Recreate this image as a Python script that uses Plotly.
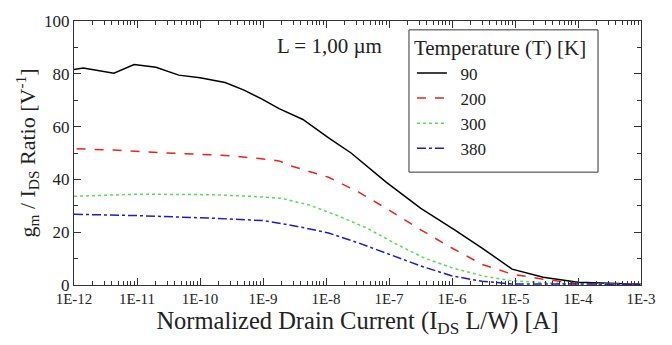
import plotly.graph_objects as go

# ---- data ----
x_90 = [1e-12, 1.4e-12, 4.3e-12, 9e-12, 2e-11, 4.6e-11, 1e-10, 2.5e-10, 5e-10, 9.5e-10,
        1.8e-9, 4.3e-9, 1.1e-8, 2.5e-8, 9e-8, 3.2e-7, 1.1e-6, 3e-6, 9e-6, 2.8e-5, 1e-4, 1e-3]
y_90 = [81.6, 82.2, 80.2, 83.5, 82.5, 79.5, 78.5, 76.7, 73.8, 70.5,
        66.8, 62.7, 55.7, 50.0, 39.0, 29.0, 20.9, 14.0, 6.0, 2.9, 1.0, 0.3]

x_200 = [1.1e-12, 4.3e-12, 2.5e-11, 2.5e-10, 8.7e-10, 1.8e-9, 2.7e-9, 1.1e-8, 3.3e-8, 1e-7,
         3.2e-7, 9.8e-7, 3e-6, 9e-6, 2.8e-5, 1e-4, 1e-3]
y_200 = [51.6, 51.1, 50.1, 49.1, 47.9, 47.0, 45.2, 40.8, 35.2, 28.4,
         20.9, 14.1, 7.8, 4.1, 2.2, 0.6, 0.2]

x_300 = [1e-12, 1e-11, 1.6e-10, 6.5e-10, 2e-9, 5.4e-9, 1.45e-8, 4.5e-8, 1.35e-7, 3.6e-7,
         9.8e-7, 3e-6, 9e-6, 5e-5, 1e-3]
y_300 = [33.6, 34.4, 34.2, 33.6, 32.8, 30.3, 26.5, 21.5, 15.3, 10.3,
         6.6, 3.5, 1.6, 0.6, 0.2]

x_380 = [1e-12, 1e-11, 1.6e-10, 1e-9, 3.5e-9, 1.1e-8, 3.3e-8, 1e-7, 3.2e-7, 9.8e-7,
         3e-6, 9e-6, 1e-3]
y_380 = [26.8, 26.3, 25.3, 24.4, 22.2, 19.7, 15.9, 11.6, 7.2, 3.5,
         1.4, 0.4, 0.3]

series_names = ["90", "200", "300", "380"]
x_tickvals = [1e-12, 1e-11, 1e-10, 1e-9, 1e-8, 1e-7, 1e-6, 1e-5, 1e-4, 1e-3]
x_ticktext = ["1E-12", "1E-11", "1E-10", "1E-9", "1E-8", "1E-7", "1E-6", "1E-5", "1E-4", "1E-3"]
y_tickvals = [0, 20, 40, 60, 80, 100]

FONT = "Liberation Serif"
TXT = "#222222"

fig = go.Figure()
styles = [
    ("#000000", "solid", 1.5),
    ("#e8231c", "dash", 1.5),
    ("#55dd55", "dot", 1.5),
    ("#1c1ccc", "dashdot", 1.5),
]
for (xs, ys, name, (c, d, w)) in zip([x_90, x_200, x_300, x_380],
                                     [y_90, y_200, y_300, y_380],
                                     series_names, styles):
    fig.add_trace(go.Scatter(x=xs, y=ys, name="\u2002" + name, mode="lines",
                             line=dict(color=c, dash=d, width=w)))

minor_x = []
for e in range(-12, -3):
    for m in range(2, 10):
        minor_x.append(m * 10.0 ** e)

fig.update_layout(
    width=672, height=345,
    margin=dict(l=74, r=31, t=16, b=60),
    paper_bgcolor="white", plot_bgcolor="white",
    font=dict(family=FONT, color=TXT),
    showlegend=True,
    legend=dict(
        x=0.596, y=0.973, xanchor="left", yanchor="top",
        bgcolor="rgba(0,0,0,0)", borderwidth=0,
        font=dict(family=FONT, size=17, color=TXT),
        title=dict(text="Temperature (T) [K]", font=dict(family=FONT, size=21, color=TXT)),
        tracegroupgap=0,
    ),
    shapes=[dict(
        type="rect", xref="paper", yref="paper",
        x0=0.5908, x1=0.9242, y0=0.4275, y1=0.9665,
        fillcolor="white", line=dict(color="#333333", width=1), layer="above",
    )],
    annotations=[dict(
        text="L = 1,00 µm", x=0.45, y=0.907, xref="paper", yref="paper",
        showarrow=False, font=dict(family=FONT, size=21, color=TXT),
        xanchor="center", yanchor="middle",
    )],
)

fig.update_xaxes(
    type="log", range=[-12, -3],
    tickvals=x_tickvals, ticktext=x_ticktext,
    ticks="inside", ticklen=7, tickwidth=1, tickcolor="#333333",
    minor=dict(tickvals=minor_x, ticks="inside", ticklen=4, tickcolor="#333333"),
    showline=True, linecolor="#333333", linewidth=1.2, mirror="allticks",
    showgrid=False, zeroline=False,
    tickfont=dict(family=FONT, size=15, color=TXT),
    title=dict(text="Normalized Drain Current (I<sub>DS</sub> L/W) [A]",
               font=dict(family=FONT, size=24.5, color=TXT), standoff=2),
)
fig.update_yaxes(
    range=[0, 100],
    tickvals=y_tickvals,
    ticks="inside", ticklen=7, tickwidth=1, tickcolor="#333333",
    minor=dict(dtick=10, ticks="inside", ticklen=4, tickcolor="#333333"),
    showline=True, linecolor="#333333", linewidth=1.2, mirror="allticks",
    showgrid=False, zeroline=False,
    tickfont=dict(family=FONT, size=17, color=TXT),
    title=dict(text="g<sub>m</sub> / I<sub>DS</sub> Ratio [V<sup>-1</sup>]",
               font=dict(family=FONT, size=22, color=TXT), standoff=2),
)

fig.write_html("out.html")
